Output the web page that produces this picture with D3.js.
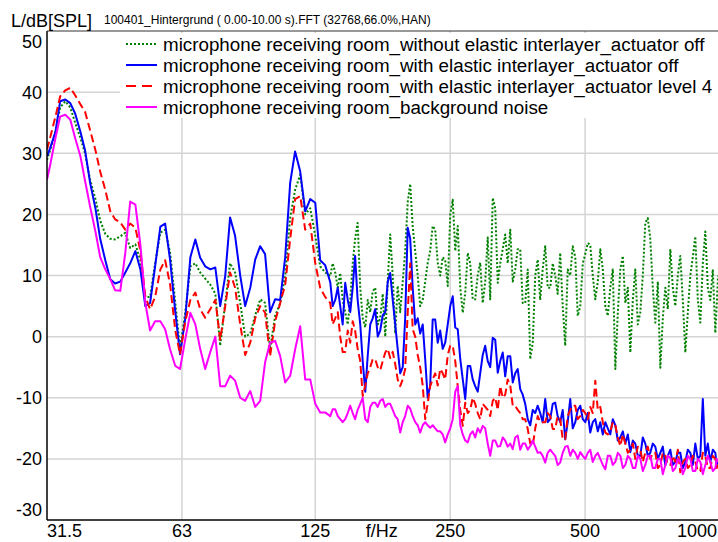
<!DOCTYPE html>
<html lang="en">
<head>
    <meta charset="UTF-8">
    <title>FFT spectrum - receiving room</title>
    <style>
        body { margin: 0; background: #ffffff; }
        svg { display: block; font-family: "Liberation Sans", Arial, sans-serif; }
    </style>
</head>
<body>
    <div id="chart"></div>

    <script src="https://d3js.org/d3.v7.min.js"></script>
    <script>
        const freqHz = [
            31.5, 32.0, 32.9, 33.7, 34.6, 35.5, 36.4, 37.4, 38.3, 39.3,
            40.4, 41.4, 42.5, 43.6, 44.7, 45.9, 47.1, 48.3, 49.6, 50.9,
            52.2, 53.5, 54.9, 56.4, 57.8, 59.3, 60.9, 62.4, 64.1, 65.8,
            67.5, 69.2, 71.0, 72.9, 74.8, 76.7, 78.7, 80.7, 82.8, 85.0,
            87.2, 89.5, 91.8, 94.2, 96.6, 99.1, 101.7, 104.4, 107.1, 109.9,
            112.7, 115.7, 118.7, 121.8, 125, 128.2, 131.5,
            135.0, 136.7, 138.5, 140.3, 142.1, 143.9, 145.8, 147.7, 149.6, 151.5,
            153.4, 155.4, 157.5, 159.5, 161.6, 163.7, 165.8, 167.9, 170.1, 172.3,
            174.5, 176.8, 179.1, 181.4, 183.7, 186.1, 188.5, 190.9, 193.4, 195.9,
            198.4, 201.0, 203.6, 206.2, 208.9, 211.6, 214.3, 217.1, 219.9, 222.7,
            225.6, 228.5, 231.5, 234.5, 237.5, 240.6, 243.7, 246.9, 250.1, 253.3,
            256.6, 259.9, 263.3, 266.7, 270.1, 273.6, 277.1, 280.7, 284.3, 288.0,
            291.7, 295.5, 299.3, 303.2, 307.1, 311.1, 315.1, 319.2, 323.3, 327.5,
            331.7, 336.0, 340.4, 344.8, 349.2, 353.7, 358.3, 362.9, 367.6, 372.4,
            377.2, 382.1, 387.0, 392.0, 397.0, 402.1, 407.4, 412.7, 418.0, 423.4,
            428.8, 434.3, 440.0, 445.7, 451.5, 457.3, 463.3, 469.3, 475.4, 481.5,
            487.8, 494.1, 500.5, 507.0, 513.5, 520.1, 526.9, 533.7, 540.6, 547.6,
            554.7, 561.9, 569.1, 576.5, 584.0, 591.6, 599.2, 607.0, 614.8, 622.7,
            630.8, 639.0, 647.1, 655.5, 664.0, 672.6, 681.3, 690.1, 699.0, 708.0,
            717.2, 726.5, 735.9, 745.4, 755.0, 764.8, 774.7, 784.7, 794.9, 805.2,
            815.5, 826.0, 836.8, 847.6, 858.6, 869.7, 880.9, 892.3, 903.8, 915.5,
            927.3, 939.3, 951.4, 963.7, 976.2, 983, 990
        ];

        // without elastic interlayer, actuator off (green dotted)
        const dbWithoutOff = [
            28.9, 30.5, 33.5, 37.5, 38.5, 37.5, 35.0, 32.5, 30.0, 25.7,
            22.5, 19.0, 16.8, 16.0, 15.9, 16.4, 17.0, 14.5, 15.1, 12.5,
            6.5, 6.5, 12.0, 17.0, 17.5, 13.7, 5.5, -2.0, 4.0, 11.5,
            12.0, 10.5, 9.5, 8.5, 7.0, -1.5, 5.5, 12.0, 10.5, 5.5,
            0.0, 0.5, 3.5, 6.1, 5.5, -2.0, 3.4, 5.5, 10.0, 19.5,
            24.0, 26.5, 20.0, 21.0, 16.5, 11.5, 10.5,
            9.9, 12.0, 10.5, 8.0, 10.4, 6.0, 4.0, 2.0, 6.0, 12.0,
            16.0, 18.6, 8.0, 3.0, 1.5, 6.0, 4.0, 7.4, 8.0, 2.0,
            3.0, 7.0, 0.0, 9.0, 16.7, 10.0, 0.5, 8.3, 4.0, 9.0,
            14.0, 22.0, 25.0, 18.0, 14.0, 10.0, 5.0, 6.0, 9.0, 12.0,
            14.0, 18.1, 17.5, 12.1, 10.0, 13.0, 12.5, 8.3, 20.0, 22.4,
            14.0, 18.1, 8.0, 3.9, 7.2, 13.7, 12.0, 6.1, 6.1, 10.0,
            12.1, 5.5, 9.0, 16.2, 6.1, 22.7, 21.0, 8.8, 12.0, 14.3,
            16.7, 12.0, 17.5, 9.0, 11.0, 14.3, 14.3, 5.5, 5.5, 11.0,
            -3.7, -1.0, 10.0, 12.6, 6.0, 11.0, 14.8, 8.0, 8.0, 12.0,
            10.0, 7.0, 13.7, 5.0, -1.5, 11.0, 10.0, 14.8, 13.0, 3.4,
            5.0, 12.0, 13.5, 15.3, 15.0, 10.0, 6.1, 9.0, 14.3, 11.0,
            5.0, 3.4, 8.0, 11.0, -5.3, 4.0, 11.0, 13.2, 5.5, 8.0,
            -2.6, 6.0, 11.0, 2.0, 4.0, 10.0, 18.6, 19.4, 16.0, 8.0,
            2.3, 9.0, -5.1, 3.0, 8.0, 4.5, 14.3, 8.0, 5.0, 10.0,
            13.2, 6.0, -2.6, 4.0, 10.0, 13.0, 16.4, 6.0, 2.3, 12.0,
            17.2, 8.0, 6.0, 11.0, 0.6, 5.0, 10.0
        ];

        // with elastic interlayer, actuator off (blue)
        const dbWithOff = [
            29.5, 30.8, 33.5, 38.5, 38.8, 38.2, 36.5, 33.5, 30.5, 25.2,
            21.0, 16.0, 12.5, 9.4, 8.7, 9.0, 10.5, 12.0, 14.0, 11.0,
            5.0, 5.5, 11.5, 18.0, 18.5, 12.5, 4.0, -2.9, 3.0, 13.0,
            15.9, 12.9, 11.5, 11.0, 11.3, 5.0, 9.9, 19.5, 16.5, 10.0,
            5.0, 8.0, 12.6, 14.8, 13.5, 4.0, 6.1, 6.0, 13.0, 25.2,
            30.3, 27.0, 20.5, 22.5, 21.9, 12.5, 11.7,
            8.9, 5.0, 6.0, 8.0, 5.0, 2.0, 8.8, 6.0, 4.0, 8.0,
            13.2, 6.0, 2.0, -4.0, -9.0, -3.0, 2.0, 3.0, 4.5, 0.0,
            1.0, 3.5, 4.0, 9.0, 10.4, 6.0, 2.0, -2.0, -6.0, -5.0,
            3.0, 17.8, 16.0, 8.0, 2.0, 3.0, 0.5, 2.0, -3.7, -10.0,
            -8.0, 2.8, 2.8, -1.0, 1.0, -2.0, -1.0, 2.0, 5.0, 6.6,
            1.5, 1.2, -3.7, -7.0, -10.2, -4.8, -4.8, -7.0, -8.1, -9.0,
            -6.0, -3.0, -1.5, -4.0, -5.0, -0.2, -0.5, -5.9, -4.0, -2.6,
            -6.5, -3.2, -3.2, -7.5, -6.0, -5.3, -8.6, -9.5, -11.0, -13.5,
            -14.5, -12.0, -12.5, -11.3, -12.5, -14.0, -10.2, -14.0, -13.5, -11.0,
            -10.8, -13.0, -14.0, -12.0, -16.8, -14.0, -10.2, -15.0, -14.0, -12.0,
            -11.3, -13.5, -14.0, -12.5, -15.7, -14.0, -13.5, -15.5, -14.0, -16.0,
            -14.0, -15.0, -16.0, -13.5, -14.5, -17.0, -16.5, -15.5, -17.5, -16.0,
            -18.9, -17.0, -17.5, -19.5, -19.5, -16.5, -17.5, -19.5, -19.0, -17.5,
            -18.0, -20.0, -19.0, -18.0, -21.1, -19.5, -18.5, -21.0, -20.5, -19.0,
            -19.0, -21.5, -20.5, -18.5, -19.0, -21.0, -17.5, -20.0, -19.5, -10.2,
            -19.5, -17.5, -20.5, -18.5, -19.0, -21.0, -20.0
        ];

        // with elastic interlayer, actuator level 4 (red dashed)
        const dbWithLevel4 = [
            30.6, 32.5, 36.0, 39.3, 40.3, 40.7, 39.5, 38.0, 36.8, 33.8,
            30.5, 27.0, 24.0, 20.5, 19.2, 18.7, 17.5, 18.5, 17.8, 14.0,
            6.5, 4.5, 6.5, 11.0, 12.5, 8.5, 1.0, -2.9, 2.5, 6.0,
            7.2, 4.5, 3.1, 4.5, 6.0, -0.5, 5.0, 10.5, 8.0, 2.0,
            -3.0, -1.0, 3.0, 5.0, 3.9, -3.2, 2.5, 5.5, 8.5, 16.0,
            22.5, 23.0, 17.5, 18.5, 12.0, 8.0, 6.5,
            5.5, 2.0, 3.0, 4.0, 0.0, -2.5, -2.5, 1.0, -1.0, 2.5,
            1.0, -2.0, -4.0, -9.7, -8.0, -6.0, -5.0, -3.7, -3.7, -5.0,
            -5.5, -4.0, -2.6, -2.0, -3.5, -2.5, -4.5, -7.0, -8.1, -7.0,
            -5.3, 4.0, 12.0, 1.2, 0.0, -3.0, -5.0, -8.0, -13.5, -11.0,
            -8.1, -7.0, -6.0, -8.0, -5.3, -6.0, -7.0, -3.0, -1.5, -1.5,
            -4.0, -8.1, -12.0, -14.6, -10.8, -12.5, -12.0, -10.0, -11.0, -12.5,
            -13.5, -11.0, -11.5, -12.0, -13.0, -10.5, -10.0, -12.0, -8.1, -10.0,
            -9.5, -7.0, -8.0, -11.3, -11.3, -12.0, -12.5, -13.5, -13.5, -15.1,
            -17.5, -17.9, -15.0, -13.0, -14.0, -14.0, -14.0, -12.5, -13.0, -15.1,
            -15.1, -13.0, -13.5, -16.8, -16.8, -13.0, -12.0, -11.3, -11.3, -13.5,
            -13.0, -12.0, -12.5, -13.5, -11.5, -12.5, -7.2, -12.0, -11.5, -14.0,
            -15.7, -16.0, -15.5, -14.0, -14.5, -16.5, -17.9, -16.0, -17.5, -19.0,
            -18.5, -17.5, -20.0, -18.0, -18.5, -20.5, -19.0, -18.0, -20.0, -19.0,
            -19.0, -21.5, -21.0, -19.0, -19.5, -21.0, -21.0, -19.5, -20.5, -18.5,
            -22.2, -20.5, -20.0, -21.5, -21.0, -19.5, -20.5, -22.0, -22.0, -19.0,
            -19.5, -21.5, -21.5, -19.5, -20.0, -21.5, -21.0
        ];

        // background noise (magenta)
        const dbBackground = [
            25.7, 28.0, 32.5, 36.0, 36.3, 35.5, 32.5, 29.5, 25.5, 21.3,
            17.2, 13.0, 11.0, 9.4, 7.6, 7.5, 13.7, 22.1, 21.6, 15.0,
            5.5, 1.0, 2.5, 2.5, 1.2, -2.1, -4.8, -5.3, -0.4, 3.9,
            2.0, -2.0, -5.3, -2.5, 0.0, -8.1, -8.1, -6.4, -7.2, -10.0,
            -10.5, -8.9, -11.5, -10.5, -4.2, -1.0, -0.7, -3.2, -7.5, -6.4,
            -2.1, 1.7, -7.0, -7.0, -11.0, -12.4, -12.4,
            -13.0, -11.9, -11.9, -13.0, -13.5, -14.0, -13.5, -12.5, -11.3, -12.5,
            -13.5, -12.0, -11.0, -10.0, -13.5, -14.0, -11.5, -10.8, -10.8, -11.5,
            -10.5, -10.2, -11.5, -11.0, -11.0, -12.0, -13.0, -13.5, -15.7, -14.0,
            -13.0, -11.3, -11.8, -13.0, -14.0, -14.5, -15.7, -14.5, -14.0, -14.5,
            -14.9, -14.5, -15.0, -15.5, -15.5, -16.0, -17.3, -16.0, -15.0, -13.5,
            -9.0, -8.1, -14.5, -16.0, -17.0, -17.3, -16.0, -15.5, -16.5, -15.0,
            -15.7, -14.6, -15.0, -17.5, -19.5, -17.0, -17.0, -18.0, -17.9, -16.5,
            -17.0, -18.0, -17.5, -18.4, -16.5, -16.2, -18.5, -17.5, -17.5, -18.5,
            -17.9, -17.0, -18.0, -19.0, -18.9, -19.5, -20.6, -19.0, -18.5, -19.0,
            -19.5, -21.0, -20.6, -19.0, -18.0, -17.9, -19.5, -18.5, -19.0, -20.0,
            -18.9, -19.5, -20.0, -19.0, -18.5, -20.5, -19.5, -19.0, -20.0, -21.0,
            -21.7, -19.5, -19.5, -21.0, -20.5, -19.0, -19.5, -21.5, -21.0, -19.5,
            -20.0, -21.5, -21.5, -19.5, -20.0, -22.0, -21.0, -19.5, -19.5, -21.5,
            -21.5, -20.0, -20.0, -22.5, -21.0, -19.5, -19.8, -22.0, -21.5, -20.0,
            -20.5, -22.5, -21.5, -19.5, -20.0, -22.0, -22.0, -20.0, -20.5, -22.5,
            -21.0, -19.5, -20.5, -22.0, -21.5, -20.0, -20.5
        ];

        const seriesNames = [
            "microphone receiving room_without elastic interlayer_actuator off",
            "microphone receiving room_with elastic interlayer_actuator off",
            "microphone receiving room_with elastic interlayer_actuator level 4",
            "microphone receiving room_background noise"
        ];

        const yTicks = [50, 40, 30, 20, 10, 0, -10, -20, -30];
        const xTicks = [31.5, 63, 125, 250, 500, 1000];
        const xTickLabels = ["31.5", "63", "125", "250", "500", "1000"];

        // line styles for the four series, same order as seriesNames
        const styles = [
            { color: "#008000", dash: "2,2", width: 2 },
            { color: "#0000ff", dash: null, width: 2 },
            { color: "#ff0000", dash: "8,4", width: 2 },
            { color: "#ff00ff", dash: null, width: 2 }
        ];

        const width = 718, height = 542;
        const plot = { left: 47, right: 718, top: 31, bottom: 520 };

        const svg = d3.select("#chart")
            .append("svg")
            .attr("width", width)
            .attr("height", height);

        // log frequency axis, the window cuts it just short of 1000 Hz
        const x = d3.scaleLog()
            .domain([31.5, 1000])
            .range([plot.left, 720]);

        const y = d3.scaleLinear()
            .domain([-30, 50])
            .range([plot.bottom, plot.top]);

        svg.append("clipPath")
            .attr("id", "plotClip")
            .append("rect")
            .attr("x", plot.left)
            .attr("y", plot.top)
            .attr("width", plot.right - plot.left)
            .attr("height", plot.bottom - plot.top);

        // grid
        svg.append("g")
            .selectAll("line")
            .data(yTicks.filter(d => d > -30 && d < 50))
            .join("line")
            .attr("x1", plot.left).attr("x2", plot.right)
            .attr("y1", d => y(d)).attr("y2", d => y(d))
            .attr("stroke", "#d4d4d4")
            .attr("stroke-width", 1.5);

        svg.append("g")
            .selectAll("line")
            .data(xTicks.filter(d => d > 31.5 && d < 1000))
            .join("line")
            .attr("x1", d => x(d)).attr("x2", d => x(d))
            .attr("y1", plot.top).attr("y2", plot.bottom)
            .attr("stroke", "#d4d4d4")
            .attr("stroke-width", 1.5);

        // legend background hides the grid behind it
        svg.append("rect")
            .attr("x", 120).attr("y", 33)
            .attr("width", plot.right - 120).attr("height", 85)
            .attr("fill", "#ffffff");

        // spectra
        const allSeries = [dbWithoutOff, dbWithOff, dbWithLevel4, dbBackground];
        const line = d3.line()
            .x(d => x(d[0]))
            .y(d => y(d[1]))
            .curve(d3.curveLinear);

        const curves = svg.append("g").attr("clip-path", "url(#plotClip)");
        allSeries.forEach((values, i) => {
            curves.append("path")
                .datum(freqHz.map((f, k) => [f, values[k]]))
                .attr("fill", "none")
                .attr("stroke", styles[i].color)
                .attr("stroke-width", styles[i].width)
                .attr("stroke-dasharray", styles[i].dash)
                .attr("stroke-linejoin", "round")
                .attr("d", line);
        });

        // frame: left axis, bottom axis, top border
        svg.append("line")
            .attr("x1", plot.left).attr("x2", plot.left)
            .attr("y1", plot.top).attr("y2", plot.bottom)
            .attr("stroke", "#000").attr("stroke-width", 1.5);
        svg.append("line")
            .attr("x1", plot.left).attr("x2", plot.right)
            .attr("y1", plot.bottom).attr("y2", plot.bottom)
            .attr("stroke", "#000").attr("stroke-width", 1.5);
        svg.append("line")
            .attr("x1", plot.left).attr("x2", plot.right)
            .attr("y1", plot.top).attr("y2", plot.top)
            .attr("stroke", "#333").attr("stroke-width", 1);

        // y tick labels, the end ones are pushed inside the frame
        svg.append("g")
            .selectAll("text")
            .data(yTicks)
            .join("text")
            .attr("x", 42)
            .attr("y", d => y(d) + (d === 50 ? 11 : d === -30 ? -10 : 0))
            .attr("dy", "0.36em")
            .attr("text-anchor", "end")
            .attr("font-size", 18)
            .attr("fill", "#000")
            .text(d => d);

        // x tick labels
        svg.append("g")
            .selectAll("text")
            .data(xTicks)
            .join("text")
            .attr("x", d => d === 1000 ? 717 : x(d))
            .attr("y", 537)
            .attr("text-anchor", (d, i) => i === 0 ? "start" : d === 1000 ? "end" : "middle")
            .attr("font-size", 18)
            .attr("fill", "#000")
            .text((d, i) => xTickLabels[i]);

        svg.append("text")
            .attr("x", x(176))
            .attr("y", 537)
            .attr("text-anchor", "middle")
            .attr("font-size", 18)
            .text("f/Hz");

        // header
        svg.append("text")
            .attr("x", 11).attr("y", 27)
            .attr("font-size", 18)
            .text("L/dB[SPL]");
        svg.append("text")
            .attr("x", 104).attr("y", 24)
            .attr("font-size", 12)
            .text("100401_Hintergrund ( 0.00-10.00 s).FFT (32768,66.0%,HAN)");

        // legend
        const legend = svg.append("g");
        seriesNames.forEach((name, i) => {
            const cy = 44 + i * 21;
            legend.append("line")
                .attr("x1", 126).attr("x2", 157)
                .attr("y1", cy).attr("y2", cy)
                .attr("stroke", styles[i].color)
                .attr("stroke-width", styles[i].width)
                .attr("stroke-dasharray", i === 2 ? "10,6" : styles[i].dash);
            legend.append("text")
                .attr("x", 163).attr("y", cy)
                .attr("dy", "0.36em")
                .attr("font-size", 18.8)
                .attr("fill", "#000")
                .text(name);
        });
    </script>
</body>
</html>
